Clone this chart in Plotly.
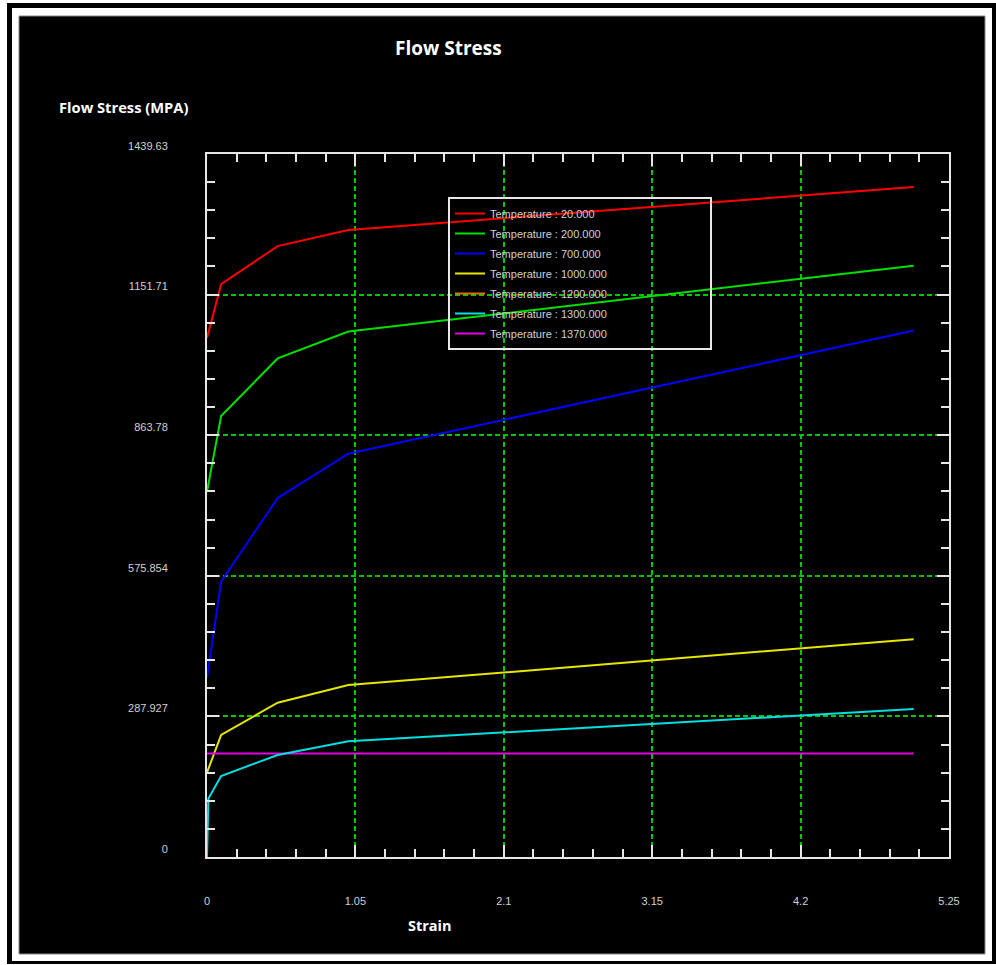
import plotly.graph_objects as go

# ---- data ----
strain = [0.0, 0.1, 0.5, 1.0, 5.0]
stress_20 = [1063, 1173, 1251, 1284, 1372]
stress_200 = [748, 903, 1021, 1076, 1211]
stress_700 = [367, 564, 735, 826, 1078]
stress_1000 = [173, 250, 316, 352, 446]
strain_1300 = [0.0, 0.01, 0.1, 0.5, 1.0, 5.0]
stress_1300 = [0, 120, 166, 209, 237, 303]
strain_1370 = [0.0, 5.0]
stress_1370 = [212, 212]

x_ticks = [0, 1.05, 2.1, 3.15, 4.2, 5.25]
x_ticktext = ["0", "1.05", "2.1", "3.15", "4.2", "5.25"]
y_ticks = [0, 287.927, 575.854, 863.78, 1151.71, 1439.63]
y_ticktext = ["0", "287.927", "575.854", "863.78", "1151.71", "1439.63"]

W, H = 996, 965
L, R, T, B = 207, 47, 154, 108
PW, PH = W - L - R, H - T - B


def fx(px):
    return (px - L) / PW


def fy(py):
    return (H - B - py) / PH


fig = go.Figure()

PAD = "\u00a0" * 32
series = [
    ("Temperature : 20.000", strain, stress_20, "#ff0000", 1),
    ("Temperature : 200.000", strain, stress_200, "#00e000", 2),
    ("Temperature : 700.000", strain, stress_700, "#0000ff", 3),
    ("Temperature : 1000.000", strain, stress_1000, "#e6e600", 4),
    ("Temperature : 1200.000", [None], [None], "#e07000", 5),
    ("Temperature : 1370.000", strain_1370, stress_1370, "#e600e6", 7),
    ("Temperature : 1300.000", strain_1300, stress_1300, "#00e0e0", 6),
]
for name, xs, ys, col, rank in series:
    fig.add_trace(go.Scatter(x=xs, y=ys, mode="lines", name=name + PAD,
                             line=dict(color=col, width=2),
                             legendrank=rank, legendgroup=name))

axcol = "#e6e6e6"
tickfont = dict(family="Liberation Sans, Arial", size=11, color="#d0d0d0")
common = dict(
    showline=True, linewidth=2, linecolor=axcol, mirror="allticks",
    ticks="inside", ticklen=12, tickwidth=2, tickcolor=axcol,
    showgrid=True, gridcolor="#00c800", gridwidth=1.5, griddash="5px,3px",
    zeroline=False, tickfont=tickfont,
)
fig.update_xaxes(range=[0, 5.25], tickmode="array", tickvals=x_ticks,
                 ticktext=x_ticktext, ticklabelstandoff=33,
                 minor=dict(dtick=0.21, tick0=0, ticks="inside", ticklen=8,
                            tickwidth=2, tickcolor=axcol, showgrid=False),
                 **common)
fig.update_yaxes(range=[0, 1439.63], tickmode="array", tickvals=y_ticks,
                 ticktext=y_ticktext, ticklabelshift=-8, ticklabelstandoff=35,
                 minor=dict(dtick=1439.63 / 25, tick0=0, ticks="inside",
                            ticklen=8, tickwidth=2, tickcolor=axcol,
                            showgrid=False),
                 **common)

shapes = [
    dict(type="rect", xref="paper", yref="paper", layer="below",
         x0=fx(7), x1=fx(1000), y0=fy(964), y1=fy(3),
         fillcolor="black", line=dict(width=0)),
    dict(type="rect", xref="paper", yref="paper", layer="below",
         x0=fx(12), x1=fx(992), y0=fy(961), y1=fy(8),
         fillcolor="white", line=dict(width=0)),
    dict(type="rect", xref="paper", yref="paper", layer="below",
         x0=fx(19), x1=fx(985), y0=fy(954), y1=fy(16),
         fillcolor="black", line=dict(width=1, color="#888888")),
]

titlefont = "Open Sans, Lato, sans-serif"
annotations = [
    dict(text="<b>Flow Stress</b>", x=fx(448), y=fy(48), xref="paper",
         yref="paper", xanchor="center", yanchor="middle", showarrow=False,
         font=dict(family=titlefont, size=19, color="white")),
    dict(text="<b>Flow Stress (MPA)</b>", x=fx(57), y=fy(107), xref="paper",
         yref="paper", xanchor="left", yanchor="middle", showarrow=False,
         font=dict(family=titlefont, size=14.7, color="white")),
    dict(text="<b>Strain</b>", x=fx(430), y=fy(926), xref="paper",
         yref="paper", xanchor="center", yanchor="middle", showarrow=False,
         font=dict(family=titlefont, size=14.5, color="white")),
]

fig.update_layout(
    width=W, height=H, margin=dict(l=L, r=R, t=T, b=B, pad=0),
    paper_bgcolor="white", plot_bgcolor="black",
    shapes=shapes, annotations=annotations,
    showlegend=True,
    legend=dict(x=fx(448), y=fy(197), xanchor="left", yanchor="top",
                bgcolor="rgba(0,0,0,0)", bordercolor="#e8e8e8", borderwidth=2,
                font=dict(family="Liberation Sans, Arial", size=11,
                          color="#d0d0d0"),
                itemwidth=30, tracegroupgap=1),
)

fig.write_html("out.html")
